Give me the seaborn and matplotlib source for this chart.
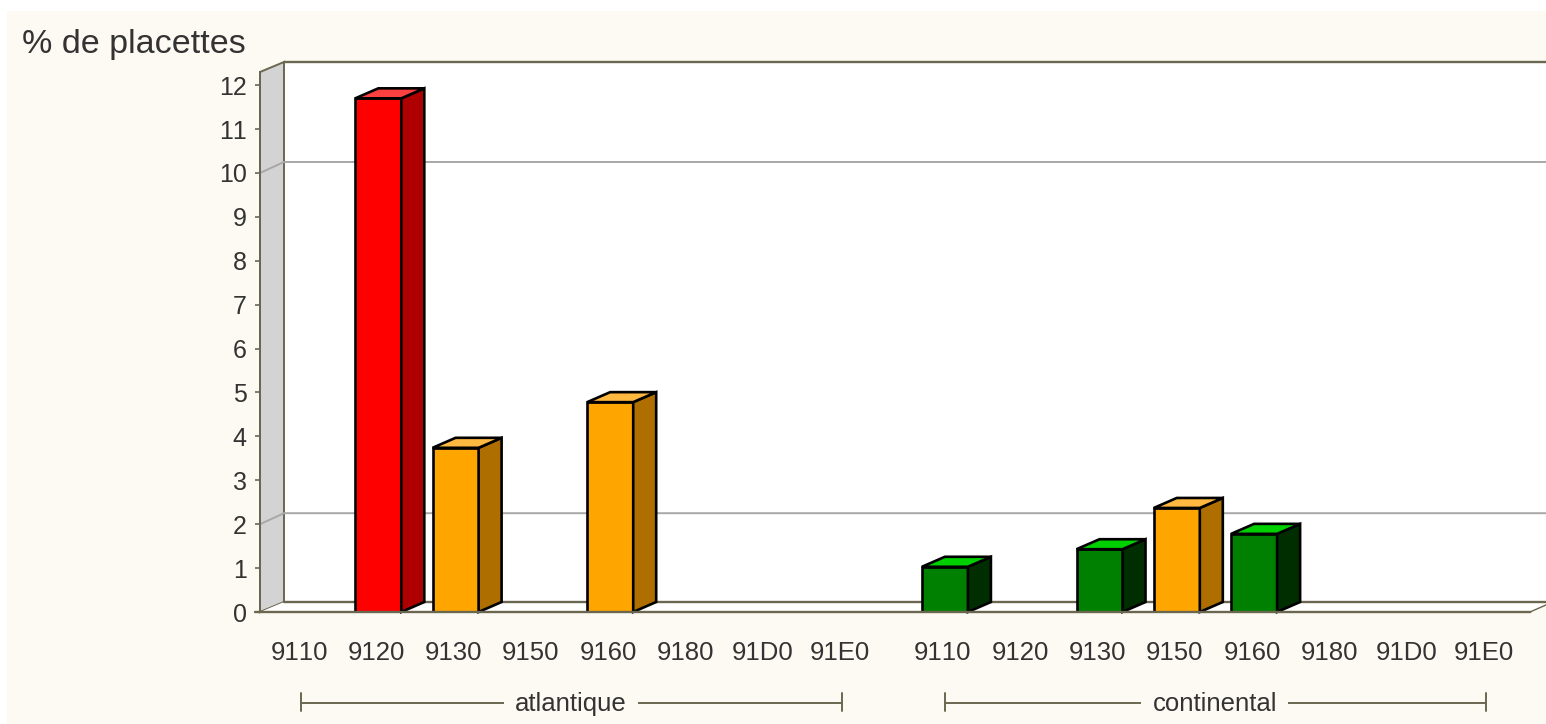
import numpy as np
import pandas as pd
import matplotlib
matplotlib.use('Agg')
import matplotlib.pyplot as plt
import seaborn as sns
from matplotlib.patches import Polygon, Rectangle
from matplotlib.transforms import Affine2D, IdentityTransform, blended_transform_factory

# Valeurs
codes = ['9110', '9120', '9130', '9150', '9160', '9180', '91D0', '91E0']
regions = ['atlantique', 'continental']
atlantique = [0, 11.7, 3.74, 0, 4.78, 0, 0, 0]
continental = [1.03, 0, 1.43, 2.37, 1.78, 0, 0, 0]
niveaux_atl = ['vert', 'rouge', 'orange', 'vert', 'orange', 'vert', 'vert', 'vert']
niveaux_con = ['vert', 'vert', 'vert', 'orange', 'vert', 'vert', 'vert', 'vert']
y_ticks = list(range(0, 13))
grid_values = [2, 10]

# Couleurs : face, dessus, côté
face = {'rouge': '#FF0000', 'orange': '#FFA500', 'vert': '#008000'}
top = {'rouge': '#FF4040', 'orange': '#FFB840', 'vert': '#00CF00'}
side = {'rouge': '#AE0000', 'orange': '#AE6F00', 'vert': '#002E00'}
cream = '#FDFAF3'
frame = '#6B6650'
text_col = '#333333'

W, H = 1546, 724
sns.set_theme(style='white')
plt.rcParams['font.family'] = ['Liberation Sans', 'DejaVu Sans']
plt.rcParams['text.kerning_factor'] = 6

# Une table pour seaborn
group_gap = 0.33
pos = np.arange(len(codes))
df = pd.DataFrame({
    'x': np.concatenate([pos, pos + len(codes) + group_gap]),
    'code': codes + codes,
    'region': [regions[0]] * 8 + [regions[1]] * 8,
    'valeur': atlantique + continental,
    'niveau': niveaux_atl + niveaux_con,
})

fig = plt.figure(figsize=(W / 100, H / 100), dpi=100, facecolor='white')
px = Affine2D().scale(1, -1).translate(0, H)  # coordonnées image
fig.patches.append(Rectangle((7, 11), W, H, transform=px, facecolor=cream, edgecolor='none', zorder=-5))

ax = fig.add_axes([260 / W, (H - 612) / H, (1530 - 260) / W, 540 / H])
ax.patch.set_alpha(0)

sns.barplot(data=df, x='x', y='valeur', hue='niveau', palette=face, native_scale=True,
            dodge=False, width=0.595, edgecolor='black', linewidth=1.9, legend=False,
            saturation=1, ax=ax, zorder=3)
seaborn_bars = list(ax.patches)

x_scale = 77.3
ax.set_xlim((260 - 301) / x_scale, (1530 - 301) / x_scale)
ax.set_ylim(0, 12.3)
ax.set_xlabel('')
ax.set_ylabel('')

# Murs et sol
wall = [(260, 72), (284, 62), (284, 602), (260, 612)]
ax.add_patch(Polygon(wall, transform=px, facecolor='#D3D3D3', edgecolor=frame, lw=1.4,
                     clip_on=False, zorder=0.5))
ax.add_patch(Rectangle((284, 62), W - 284, 540, transform=px, facecolor='white', edgecolor='none',
                       clip_on=False, zorder=0.4))
floor = [(260, 612), (284, 602), (W, 602), (1530, 612)]
ax.add_patch(Polygon(floor, transform=px, facecolor='white', edgecolor='none', clip_on=False, zorder=0.6))
ax.plot([284, W], [62, 62], color=frame, lw=1.7, transform=px, clip_on=False, zorder=1)
ax.plot([284, W], [602, 602], color=frame, lw=1.7, transform=px, clip_on=False, zorder=1)
ax.plot([1530, W], [612, 605], color=frame, lw=1, transform=px, clip_on=False, zorder=1)

# Lignes de grille sur le fond
for v in grid_values:
    yp = 612 - v * 540 / 12.3
    ax.plot([260, 284, W], [yp, yp - 11, yp - 11], color='#A8A8A8', lw=1.4, transform=px,
            clip_on=False, zorder=1)

# Faces 3D construites depuis les barres de seaborn
dx, dy = 23, 10
color_names = {matplotlib.colors.to_hex(c): n for n, c in face.items()}
fig.canvas.draw()
for bar in seaborn_bars:
    h = bar.get_height()
    if h <= 0:
        continue
    name = color_names[matplotlib.colors.to_hex(bar.get_facecolor())]
    (x0, y0), (x1, y1) = ax.transData.transform([(bar.get_x(), 0), (bar.get_x() + bar.get_width(), h)])
    ax.add_patch(Polygon([(x1, y0), (x1 + dx, y0 + dy), (x1 + dx, y1 + dy), (x1, y1)],
                         transform=IdentityTransform(), facecolor=side[name], edgecolor='black',
                         lw=1.9, clip_on=False, zorder=3.2))
    ax.add_patch(Polygon([(x0, y1), (x0 + dx, y1 + dy), (x1 + dx, y1 + dy), (x1, y1)],
                         transform=IdentityTransform(), facecolor=top[name], edgecolor='black',
                         lw=1.9, clip_on=False, zorder=3.2))

# Axes et graduations
for s in ['top', 'right']:
    ax.spines[s].set_visible(False)
ax.spines['left'].set_color(frame)
ax.spines['bottom'].set_color(frame)
ax.spines['left'].set_linewidth(1.4)
ax.spines['bottom'].set_linewidth(1.7)
ax.set_yticks(y_ticks)
ax.set_xticks(df['x'].values, df['code'].values)
ax.tick_params(axis='y', length=3.6, width=1.2, color=frame, pad=6, labelsize=18, labelcolor=text_col, left=True)
ax.tick_params(axis='x', length=0, pad=21, labelsize=18.5, labelcolor=text_col)
for lab in ax.get_xticklabels():
    lab.set_transform(lab.get_transform() + Affine2D().translate(-2, 0))
for sp in ax.spines.values():
    sp.set_zorder(5)
ax.plot([255, 260], [612, 612], color=frame, lw=1.7, transform=px, clip_on=False)

fig.text(22, 44, '% de placettes', transform=px, fontsize=24.5, color=text_col, ha='left', va='center')

# Accolades des régions
mix = blended_transform_factory(ax.transData, px)
for reg in regions:
    xs = df.loc[df['region'] == reg, 'x']
    a, b = xs.min(), xs.max()
    ax.plot([a, b], [703, 703], color=frame, lw=1.4, transform=mix, clip_on=False)
    ax.plot([a, a], [693, 711], color=frame, lw=1.4, transform=mix, clip_on=False)
    ax.plot([b, b], [693, 711], color=frame, lw=1.4, transform=mix, clip_on=False)
    ax.text((a + b) / 2 - 0.01, 704, reg, transform=mix, fontsize=18.5, color=text_col, ha='center', va='center',
            clip_on=False, bbox=dict(facecolor=cream, edgecolor='none', pad=8))

fig.savefig('out.png', dpi=100, facecolor=fig.get_facecolor())
